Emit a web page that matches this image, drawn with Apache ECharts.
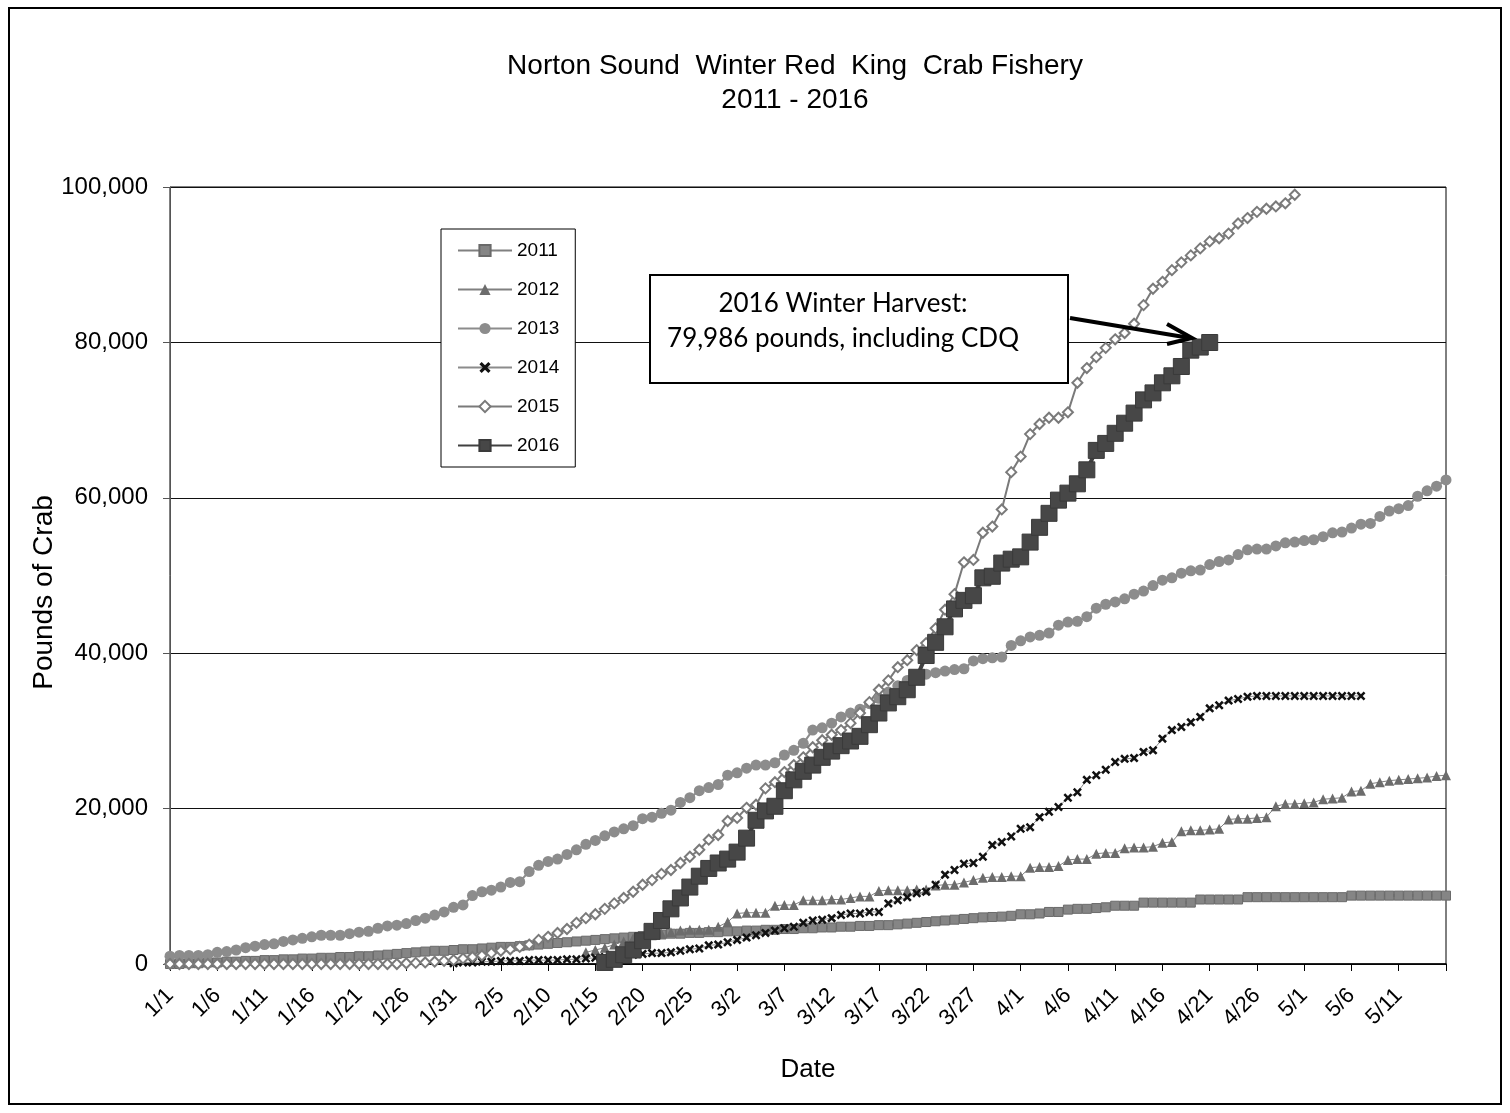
<!DOCTYPE html>
<html>
<head>
<meta charset="utf-8">
<title>Norton Sound Winter Red King Crab Fishery</title>
<script src="https://cdn.jsdelivr.net/npm/echarts@6/dist/echarts.min.js"></script>
<style>
  html, body { margin: 0; padding: 0; background: #fff; }
  #chart { width: 1510px; height: 1113px; }
</style>
</head>
<body>
<div id="chart"></div>
<script>
// day labels 1/1 .. 5/16 (non-leap year)
const monthDays = [31, 28, 31, 30, 16]
const dates = []
monthDays.forEach((n, m) => {
  for (let d = 1; d <= n; d++) dates.push((m + 1) + '/' + d)
})

const years = ['2011', '2012', '2013', '2014', '2015', '2016']

// cumulative pounds per day, each list starts at the given day index
const start2011 = 0
const pounds2011 = [
  0, 0, 100, 100, 200, 200, 300, 300, 400, 400,
  500, 500, 600, 600, 700, 700, 800, 800, 900, 900,
  1000, 1000, 1100, 1200, 1300, 1400, 1500, 1600, 1700, 1700,
  1800, 1900, 1900, 2000, 2100, 2200, 2200, 2300, 2400, 2500,
  2600, 2700, 2800, 2900, 3000, 3100, 3200, 3300, 3400, 3500,
  3600, 3700, 3800, 3900, 3900, 4000, 4000, 4100, 4100, 4200,
  4200, 4300, 4300, 4400, 4400, 4500, 4500, 4600, 4600, 4700,
  4700, 4800, 4800, 4900, 4900, 5000, 5000, 5100, 5200, 5300,
  5400, 5500, 5600, 5700, 5800, 5900, 6000, 6050, 6100, 6200,
  6400, 6400, 6500, 6700, 6700, 7000, 7100, 7100, 7200, 7300,
  7500, 7500, 7500, 7900, 7900, 7900, 7900, 7900, 7900, 8300,
  8300, 8300, 8300, 8300, 8600, 8600, 8600, 8600, 8600, 8600,
  8600, 8600, 8600, 8600, 8600, 8800, 8800, 8800, 8800, 8800,
  8800, 8800, 8800, 8800, 8800, 8800
]

const start2012 = 44
const pounds2012 = [
  1500, 1800, 2100, 2500, 2900, 3300,
  3600, 3800, 3900, 4100, 4300, 4400, 4400, 4400,
  4800, 5400, 6500, 6600, 6600, 6600, 7500, 7600, 7600, 8200,
  8200, 8200, 8300, 8300, 8500, 8700, 8700, 9400, 9500, 9500,
  9500, 9600, 9600, 10100, 10200, 10200, 10500, 10800, 11100, 11200,
  11200, 11300, 11300,
  12400, 12500, 12500, 12600, 13400, 13500, 13500, 14200, 14300, 14300,
  14900, 15000, 15000, 15100, 15600, 15700, 17100, 17200, 17200, 17300,
  17400, 18600, 18700, 18700, 18800, 18900, 20300, 20600, 20600, 20700,
  20800, 21200, 21300, 21400, 22200, 22300, 23200, 23400, 23600, 23700,
  23800, 23900, 24000, 24200, 24300
]

const start2013 = 0
const pounds2013 = [
  1000, 1100, 1100, 1100, 1200, 1500, 1600, 1800, 2100, 2300,
  2500, 2600, 2900, 3100, 3300, 3500, 3700, 3700, 3700, 3900,
  4100, 4200, 4600, 4900, 5000, 5200, 5600, 5900, 6300, 6700,
  7300, 7600, 8800, 9300, 9500, 9900, 10500, 10600, 11900, 12700,
  13200, 13500, 14100, 14700, 15400, 15900, 16500, 17000, 17400, 17800,
  18700, 18900, 19400, 19800, 20800, 21400, 22300, 22700, 23100, 24300,
  24600, 25200, 25600, 25600, 25900, 26900, 27500, 28400, 30100, 30400,
  31000, 31800, 32300, 32800, 33500, 34200, 35000, 35800, 36500, 36900,
  37300, 37500, 37700, 37900, 38000, 39000, 39300, 39400, 39500, 41000,
  41600, 42100, 42300, 42600, 43600, 44000, 44100, 44700, 45800, 46300,
  46600, 47000, 47600, 48000, 48700, 49400, 49700, 50300, 50600, 50700,
  51400, 51800, 52000, 52700, 53300, 53400, 53400, 53800, 54200, 54300,
  54500, 54600, 55000, 55500, 55600, 56100, 56600, 56700, 57600, 58300,
  58600, 59000, 60200, 60900, 61500, 62300
]

const start2014 = 30
const pounds2014 = [
  100, 200, 200, 300, 300, 400, 400, 400, 500, 500,
  500, 500, 600, 600, 700, 800, 900, 1000, 1100, 1200,
  1300, 1400, 1400, 1500, 1700, 1900, 2000, 2400, 2500, 2800,
  3100, 3400, 3700, 4000, 4300, 4600, 4800, 5300, 5600, 5700,
  5900, 6300, 6500, 6500, 6700, 6700, 7800, 8200, 8600, 9100,
  9300, 10200, 11500, 12100, 12900, 13000, 13800, 15300, 15700, 16400,
  17400, 17600, 18900, 19600, 20200, 21400, 22100, 23700, 24300, 25000,
  26000, 26400, 26500, 27300, 27500, 29000, 30100, 30500, 31100, 31800,
  32900, 33300, 33900, 34100, 34400, 34500, 34500, 34500, 34500, 34500,
  34500, 34500, 34500, 34500, 34500, 34500, 34500
]

const start2015 = 0
const pounds2015 = [
  0, 0, 0, 0, 0, 0, 0, 0, 0, 0,
  0, 0, 0, 0, 0, 0, 0, 0, 0, 0,
  0, 0, 0, 0, 0, 100, 150, 200, 300, 400,
  500, 700, 900, 1100, 1400, 1700, 1900, 2200, 2500, 3100,
  3500, 4000, 4500, 5300, 5900, 6400, 7100, 7800, 8500, 9300,
  10200, 10800, 11600, 12100, 13000, 13800, 14700, 16000, 16600, 18400,
  18800, 20100, 20500, 22600, 23400, 24700, 25600, 26600, 27900, 28800,
  29500, 30100, 31000, 32300, 33700, 35300, 36500, 38200, 39100, 40400,
  41300, 43200, 45600, 47600, 51700, 52000, 55500, 56300, 58500, 63300,
  65300, 68200, 69500, 70300, 70300, 71000, 74800, 76700, 78100, 79300,
  80400, 81200, 82400, 84800, 86900, 87800, 89300, 90300, 91200, 92100,
  93000, 93400, 94000, 95300, 96000, 96800, 97200, 97500, 97900, 99000
]

const start2016 = 46
const pounds2016 = [
  200, 600, 1200, 1800, 3000, 4200, 5600, 7100, 8500, 9900,
  11300, 12300, 13000, 13500, 14400, 16200, 18500, 19700, 20300, 22300,
  23700, 24800, 25600, 26600, 27400, 28100, 28700, 29300, 30800, 32300,
  33600, 34400, 35300, 36900, 39700, 41400, 43400, 45700, 46800, 47400,
  49700, 49900, 51600, 52100, 52400, 54300, 56200, 58000, 59700, 60600,
  61800, 63600, 66100, 67000, 68300, 69600, 70900, 72600, 73500, 74800,
  75700, 76900, 79000, 79400, 79986
]

const annotationLines = ['2016 Winter Harvest:', '79,986 pounds, including CDQ']

// place a list on the full day axis
function onDays (startIdx, values) {
  const out = dates.map(() => null)
  values.forEach((v, i) => { out[startIdx + i] = v })
  return out
}

const xMark = 'path://M0,2 L2,0 L5,3 L8,0 L10,2 L7,5 L10,8 L8,10 L5,7 L2,10 L0,8 L3,5 Z'
const font = "'Liberation Sans', Arial, sans-serif"

function lineSeries (name, data, symbol, size, line, item) {
  return {
    name: name,
    type: 'line',
    data: data,
    symbol: symbol,
    symbolSize: size,
    showAllSymbol: true,
    lineStyle: line,
    itemStyle: item,
    emphasis: { disabled: true }
  }
}

const option = {
  animation: false,
  backgroundColor: '#fff',
  title: {
    text: 'Norton Sound  Winter Red  King  Crab Fishery\n2011 - 2016',
    left: 790,
    top: 44,
    textAlign: 'center',
    textStyle: {
      fontFamily: font,
      fontSize: 28,
      fontWeight: 'normal',
      color: '#000',
      lineHeight: 34
    }
  },
  legend: {
    orient: 'vertical',
    left: 441,
    top: 229,
    data: years,
    padding: [12, 16, 12, 16],
    itemGap: 20,
    itemWidth: 54,
    itemHeight: 14,
    borderColor: '#000',
    borderWidth: 1,
    borderRadius: 0,
    backgroundColor: '#fff',
    textStyle: { fontFamily: font, fontSize: 19, color: '#000' }
  },
  grid: {
    left: 170,
    top: 187,
    right: 64,
    bottom: 149,
    show: true,
    borderColor: '#000',
    borderWidth: 1
  },
  xAxis: {
    type: 'category',
    data: dates,
    boundaryGap: false,
    name: 'Date',
    nameLocation: 'middle',
    nameGap: 93,
    nameTextStyle: { fontFamily: font, fontSize: 26, color: '#000' },
    axisLine: { lineStyle: { color: '#000', width: 1.5 } },
    axisTick: { interval: 4, length: 7, lineStyle: { color: '#000' } },
    axisLabel: {
      interval: (i) => i % 5 === 0 && i < dates.length - 1,
      rotate: 45,
      margin: 28,
      fontFamily: font,
      fontSize: 22,
      color: '#000'
    },
    splitLine: { show: false }
  },
  yAxis: {
    type: 'value',
    min: 0,
    max: 100000,
    interval: 20000,
    name: 'Pounds of Crab',
    nameLocation: 'middle',
    nameGap: 112,
    nameMoveOverlap: false,
    nameTextStyle: {
      fontFamily: font,
      fontSize: 28,
      color: '#000',
      padding: [0, 34, 0, 0]
    },
    axisLine: { show: true, lineStyle: { color: '#555' } },
    axisTick: { show: true, length: 7, lineStyle: { color: '#555' } },
    axisLabel: {
      margin: 22,
      fontFamily: font,
      fontSize: 24,
      color: '#000',
      formatter: v => v.toLocaleString('en-US')
    },
    splitLine: { lineStyle: { color: '#111', width: 1 } }
  },
  series: [
    lineSeries('2011', onDays(start2011, pounds2011), 'rect', 9,
      { color: '#808080', width: 3 },
      { color: '#858585', borderColor: '#6a6a6a', borderWidth: 1 }),
    lineSeries('2012', onDays(start2012, pounds2012), 'triangle', 10,
      { color: '#808080', width: 1 },
      { color: '#6c6c6c' }),
    lineSeries('2013', onDays(start2013, pounds2013), 'circle', 11,
      { color: '#8c8c8c', width: 2 },
      { color: '#8c8c8c' }),
    lineSeries('2014', onDays(start2014, pounds2014), xMark, 9,
      { color: '#8c8c8c', width: 1 },
      { color: '#111' }),
    lineSeries('2015', onDays(start2015, pounds2015), 'diamond', 10,
      { color: '#7a7a7a', width: 2 },
      { color: '#fff', borderColor: '#7a7a7a', borderWidth: 2 }),
    lineSeries('2016', onDays(start2016, pounds2016), 'rect', 16,
      { color: '#404040', width: 4 },
      { color: '#474747', borderColor: '#3a3a3a', borderWidth: 1 })
  ],
  graphic: [
    {
      type: 'rect',
      shape: { x: 9, y: 8, width: 1492, height: 1096 },
      style: { fill: 'none', stroke: '#000', lineWidth: 2 },
      silent: true
    },
    {
      type: 'rect',
      shape: { x: 650, y: 275, width: 418, height: 108 },
      style: { fill: '#fff', stroke: '#000', lineWidth: 2 },
      z: 10
    },
    {
      type: 'text',
      x: 843,
      y: 321,
      style: {
        text: annotationLines.join('\n'),
        fontFamily: "Lato, 'Open Sans', sans-serif",
        fontSize: 26,
        lineHeight: 35,
        fill: '#000',
        align: 'center',
        verticalAlign: 'middle'
      },
      z: 11
    },
    {
      type: 'polyline',
      shape: { points: [[1070, 318], [1190, 338]] },
      style: { stroke: '#000', lineWidth: 4, fill: null },
      z: 11
    },
    {
      type: 'polyline',
      shape: { points: [[1167, 324], [1192, 338], [1167, 344]] },
      style: { stroke: '#000', lineWidth: 4, fill: null, lineJoin: 'miter' },
      z: 11
    }
  ]
}

const chart = echarts.init(document.getElementById('chart'))
chart.setOption(option)
window.addEventListener('resize', () => chart.resize())
</script>
</body>
</html>
